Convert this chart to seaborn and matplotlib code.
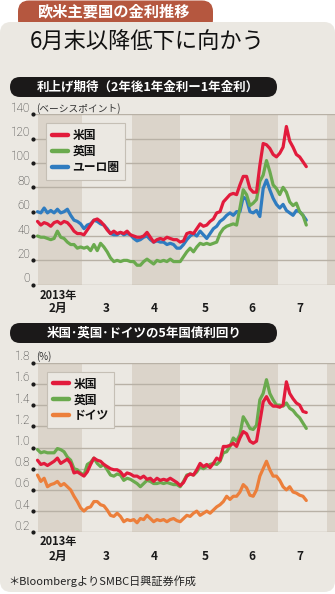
import numpy as np
import pandas as pd
import matplotlib
matplotlib.use("Agg")
import matplotlib.pyplot as plt
from matplotlib.patches import FancyBboxPatch
from matplotlib.lines import Line2D
from matplotlib.transforms import blended_transform_factory, ScaledTranslation
import seaborn as sns

# ---------------- data ----------------
date_start = "2013-02-01"
date_end = "2013-07-19"
n_obs = 82

# chart 1: rate-hike expectations (basis points)
us_expect = [52, 49, 51, 50, 48, 51, 52, 50, 52, 51, 48, 44, 42, 42, 41, 45, 49, 53, 54, 52,
             49, 45, 42, 44, 42, 43, 42, 44, 41, 40, 39, 39, 40, 43, 39, 35, 37, 38, 37, 39,
             38, 37, 37,
             35, 36, 42, 43, 42, 46, 50, 48, 49, 52, 54, 59, 60, 68, 71, 74, 75, 74, 82, 89,
             89, 79, 76, 76, 98, 116, 115, 112, 107, 105, 108, 113, 130, 118, 113, 107, 105, 101, 97]
uk_expect = [40, 39, 39, 38, 37, 38, 44, 39, 38, 35, 33, 33, 30, 31, 30, 31, 28, 33, 28, 34,
             31, 27, 22, 19, 20, 19, 20, 20, 19, 19, 16, 16, 19, 21, 19, 17, 20, 19, 20, 19,
             21, 19, 19,
             19, 23, 27, 30, 27, 31, 34, 33, 34, 33, 34, 35, 42, 46, 48, 49, 50, 49, 63, 78,
             74, 65, 67, 70, 85, 90, 102, 93, 82, 79, 74, 80, 76, 68, 65, 67, 60, 57, 49]
eu_expect = [60, 59, 63, 59, 61, 59, 62, 59, 60, 62, 57, 53, 52, 50, 46, 49, 50, 53, 52, 50,
             49, 46, 42, 41, 41, 43, 41, 42, 41, 38, 36, 37, 39, 40, 37, 35, 36, 35, 35, 33,
             34, 33, 30,
             30, 33, 37, 40, 42, 40, 44, 41, 38, 42, 46, 48, 52, 54, 57, 59, 57, 60, 60, 72,
             70, 60, 59, 61, 56, 79, 86, 78, 71, 66, 63, 66, 61, 59, 57, 61, 60, 57, 53]

# chart 2: 5-year government bond yields (%)
us_5y = [0.88, 0.84, 0.85, 0.83, 0.85, 0.87, 0.90, 0.85, 0.87, 0.89, 0.85, 0.76, 0.77, 0.75,
         0.73, 0.77, 0.84, 0.90, 0.88, 0.87, 0.84, 0.82, 0.80, 0.79, 0.79, 0.77, 0.73, 0.76,
         0.75, 0.73, 0.73, 0.71, 0.73, 0.70, 0.71, 0.68, 0.71, 0.69, 0.70, 0.69, 0.71, 0.69, 0.67,
         0.64, 0.67, 0.73, 0.75, 0.74, 0.79, 0.85, 0.82, 0.84, 0.81, 0.85, 0.90, 0.88, 1.01,
         1.01, 1.02, 1.04, 1.01, 1.09, 1.15, 1.13, 1.06, 1.04, 1.06, 1.24, 1.43, 1.48, 1.42,
         1.39, 1.39, 1.38, 1.40, 1.62, 1.51, 1.46, 1.42, 1.40, 1.34, 1.33]
uk_5y = [0.98, 0.95, 0.96, 0.95, 0.95, 0.95, 0.99, 0.98, 0.96, 0.91, 0.88, 0.80, 0.79, 0.76,
         0.74, 0.84, 0.86, 0.90, 0.85, 0.82, 0.84, 0.79, 0.74, 0.73, 0.75, 0.74, 0.69, 0.71,
         0.70, 0.68, 0.66, 0.63, 0.66, 0.69, 0.68, 0.66, 0.66, 0.67, 0.66, 0.67, 0.66, 0.65, 0.65,
         0.63, 0.68, 0.74, 0.75, 0.74, 0.77, 0.82, 0.80, 0.82, 0.84, 0.85, 0.84, 0.87, 0.95,
         0.96, 1.01, 1.09, 1.06, 1.12, 1.29, 1.24, 1.18, 1.17, 1.21, 1.45, 1.51, 1.64, 1.51,
         1.45, 1.40, 1.40, 1.39, 1.42, 1.37, 1.35, 1.31, 1.28, 1.23, 1.18]
de_5y = [0.74, 0.68, 0.71, 0.63, 0.65, 0.66, 0.68, 0.64, 0.66, 0.63, 0.60, 0.54, 0.49, 0.43,
         0.40, 0.43, 0.44, 0.49, 0.49, 0.46, 0.45, 0.41, 0.36, 0.35, 0.38, 0.35, 0.30, 0.32,
         0.31, 0.32, 0.29, 0.33, 0.32, 0.36, 0.33, 0.30, 0.32, 0.31, 0.32, 0.30, 0.32, 0.33, 0.31,
         0.30, 0.33, 0.36, 0.35, 0.38, 0.40, 0.36, 0.38, 0.40, 0.38, 0.41, 0.44, 0.46, 0.49,
         0.54, 0.51, 0.54, 0.54, 0.58, 0.65, 0.62, 0.55, 0.54, 0.60, 0.73, 0.80, 0.87, 0.79,
         0.73, 0.73, 0.69, 0.63, 0.60, 0.63, 0.58, 0.57, 0.55, 0.54, 0.50]

names1 = ["米国", "英国", "ユーロ圏"]
names2 = ["米国", "英国", "ドイツ"]
yticks1 = [0, 20, 40, 60, 80, 100, 120, 140]
yticks2 = [0.2, 0.4, 0.6, 0.8, 1.0, 1.2, 1.4, 1.6, 1.8]
month_labels = ["2月", "3", "4", "5", "6", "7"]
month_label_dates = ["2013-02-14", "2013-03-16", "2013-04-15", "2013-05-17", "2013-06-15", "2013-07-15"]
shaded_months = [("2013-02-01", "2013-03-01"), ("2013-04-01", "2013-05-01"),
                 ("2013-06-01", "2013-07-01"), ("2013-08-01", "2013-09-01")]

# ---------------- style ----------------
W, H, DPI = 335, 594, 100
sns.set_theme(style="white")
plt.rcParams['font.family'] = ['Noto Sans CJK JP', 'DejaVu Sans']

PANEL = "#ebe8e2"
SHADE = "#dbd4ca"
GRID = "#b8b1a6"
colors1 = {"米国": "#e21b3c", "英国": "#6aaa4e", "ユーロ圏": "#2f7cc0"}
colors2 = {"米国": "#e21b3c", "英国": "#6aaa4e", "ドイツ": "#ec7f3b"}

dates = pd.date_range(date_start, date_end, periods=n_obs)
df1 = pd.concat([pd.DataFrame({"date": dates, "value": v, "series": n})
                 for n, v in zip(names1, [us_expect, uk_expect, eu_expect])])
df2 = pd.concat([pd.DataFrame({"date": dates, "value": v, "series": n})
                 for n, v in zip(names2, [us_5y, uk_5y, de_5y])])

fig = plt.figure(figsize=(W / DPI, H / DPI), dpi=DPI)
fig.patch.set_facecolor("white")

bg = fig.add_axes([0, 0, 1, 1], zorder=0)
bg.set_xlim(0, W)
bg.set_ylim(H, 0)
bg.axis("off")

# title tab & panel
bg.add_patch(FancyBboxPatch((18, 0.5), 195, 30, boxstyle="round,pad=0,rounding_size=11",
                            fc="#b5573f", ec="none"))
bg.add_patch(FancyBboxPatch((0, 22), W, 570, boxstyle="round,pad=0,rounding_size=11",
                            fc=PANEL, ec="none"))
bg.text(38, 11, "欧米主要国の金利推移", color="white", fontsize=11, fontweight="bold",
        va="center", ha="left")
bg.text(30, 42, "6月末以降低下に向かう", color="#111111", fontsize=16, va="center", ha="left")

# section headers
for ytop, txt, tx in [(77, "利上げ期待（2年後1年金利ー1年金利）", 37),
                      (323, "米国･英国･ドイツの5年国債利回り", 47)]:
    bg.add_patch(FancyBboxPatch((10, ytop), 267, 20, boxstyle="round,pad=0,rounding_size=10",
                                fc="#1b1919", ec="none"))
    bg.text(tx, ytop + 10, txt, color="white", fontsize=9, fontweight="bold",
            va="center", ha="left")

x0 = pd.Timestamp(date_start) + pd.Timedelta(days=(33 - 37.5) / 1.6)
x1 = pd.Timestamp(date_start) + pd.Timedelta(days=(335 - 37.5) / 1.6)


def make_chart(top, bottom, df, names, colors, yticks, ylim, fmt, unit_text,
               leg_xy, year_y, month_y):
    ax = fig.add_axes([33 / W, 1 - bottom / H, (W - 33) / W, (bottom - top) / H], zorder=1)
    ax.set_facecolor("none")
    for a, b in shaded_months:
        ax.axvspan(pd.Timestamp(a), pd.Timestamp(b), color=SHADE, lw=0, zorder=0.1)
    sns.lineplot(data=df, x="date", y="value", hue="series", hue_order=names[::-1],
                 palette=colors, linewidth=2.3, legend=False, estimator=None, ax=ax)
    for ln in ax.lines:
        ln.set_solid_joinstyle("round")
        ln.set_solid_capstyle("round")
    ax.set_xlim(x0, x1)
    ax.set_ylim(*ylim)
    ax.set_yticks(yticks)
    ax.set_xticks([])
    ax.tick_params(axis="y", length=0, labelleft=False)
    ax.grid(axis="y", color=GRID, lw=1.0)
    ax.set_axisbelow(True)
    for s in ax.spines.values():
        s.set_visible(False)
    ax.set_xlabel("")
    ax.set_ylabel("")

    # y tick labels + dots
    tr = blended_transform_factory(bg.transData, ax.transData) + \
        ScaledTranslation(0, 2.5 / DPI, fig.dpi_scale_trans)
    for v in yticks:
        ax.text(30, v, fmt(v), transform=tr, ha="right", va="baseline", fontsize=8.5,
                color="#2a2a2a", family=["Roboto", "DejaVu Sans"], fontweight="light",
                clip_on=False)
    ax.scatter([0] * len(yticks), yticks, s=4, color="#1a1a1a", zorder=5, clip_on=False,
               transform=blended_transform_factory(ax.transAxes, ax.transData))
    ax.text(36, yticks[-1], unit_text, transform=tr, ha="left", va="baseline", fontsize=7,
            color="#333333", clip_on=False)

    # month labels
    trm = blended_transform_factory(ax.transData, bg.transData)
    ax.text(pd.Timestamp(month_label_dates[0]), year_y, "2013年", transform=trm, ha="center",
            va="center", fontsize=8, fontweight="bold", color="#1a1a1a", clip_on=False)
    for d, lab in zip(month_label_dates, month_labels):
        ax.text(pd.Timestamp(d), month_y, lab, transform=trm, ha="center", va="center",
                fontsize=8.5, fontweight="bold", color="#1a1a1a", clip_on=False)

    handles = [Line2D([], [], color=colors[n], lw=3.2) for n in names]
    leg = ax.legend(handles, names, loc="upper left", bbox_to_anchor=leg_xy,
                    bbox_transform=fig.transFigure, borderaxespad=0, frameon=True,
                    fancybox=False, facecolor=PANEL, edgecolor="#c5bfb5", framealpha=1,
                    prop={"weight": "bold", "size": 8.5}, handlelength=1.4,
                    handletextpad=0.35, labelspacing=0.25, borderpad=0.5)
    leg.get_frame().set_linewidth(0.8)
    for t in leg.get_texts():
        t.set_color("#111111")
    return ax


make_chart(114.3, 284.7, df1, names1, colors1, yticks1, (0, 140), lambda v: f"{v:d}",
           "(ベーシスポイント)", (46 / W, 1 - 123.3 / H), 295.5, 308)
make_chart(362.7, 532.3, df2, names2, colors2, yticks2, (0.2, 1.8), lambda v: f"{v:.1f}",
           "(%)", (46.7 / W, 1 - 371.7 / H), 542, 556)

bg.text(8, 581.5, "＊BloombergよりSMBC日興証券作成", fontsize=8, color="#222222",
        va="center", ha="left")

fig.savefig("out.png", dpi=DPI, facecolor="white")
